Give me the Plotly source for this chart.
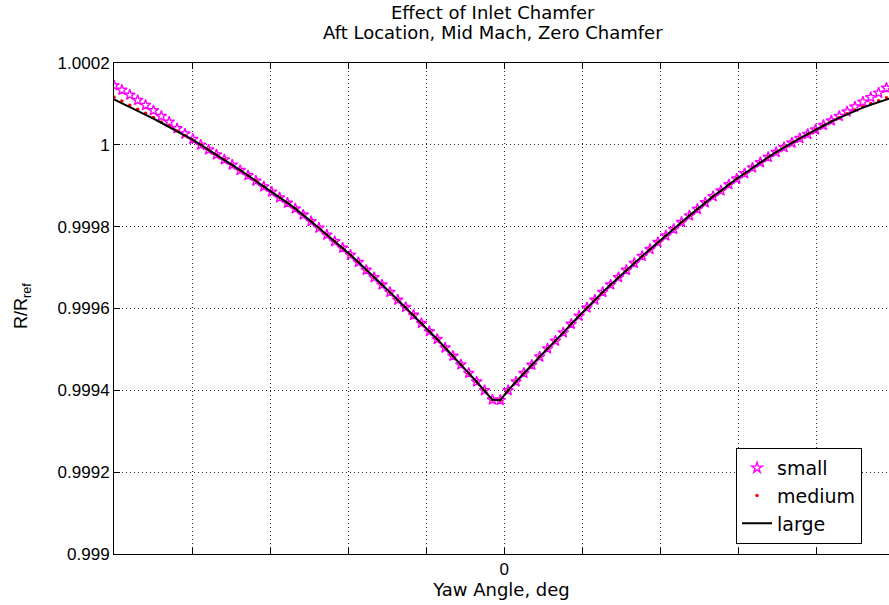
import plotly.graph_objects as go

# ---- data ----
yaw = [-5.0, -4.899, -4.798, -4.697, -4.596, -4.4949, -4.3939, -4.2929, -4.1919, -4.0909,
       -3.9899, -3.8889, -3.7879, -3.6869, -3.5859, -3.4848, -3.3838, -3.2828, -3.1818, -3.0808,
       -2.9798, -2.8788, -2.7778, -2.6768, -2.5758, -2.4747, -2.3737, -2.2727, -2.1717, -2.0707,
       -1.9697, -1.8687, -1.7677, -1.6667, -1.5657, -1.4646, -1.3636, -1.2626, -1.1616, -1.0606,
       -0.9596, -0.8586, -0.7576, -0.6566, -0.5556, -0.4545, -0.3535, -0.2525, -0.1515, -0.0505,
       0.0505, 0.1515, 0.2525, 0.3535, 0.4545, 0.5556, 0.6566, 0.7576, 0.8586, 0.9596,
       1.0606, 1.1616, 1.2626, 1.3636, 1.4646, 1.5657, 1.6667, 1.7677, 1.8687, 1.9697,
       2.0707, 2.1717, 2.2727, 2.3737, 2.4747, 2.5758, 2.6768, 2.7778, 2.8788, 2.9798,
       3.0808, 3.1818, 3.2828, 3.3838, 3.4848, 3.5859, 3.6869, 3.7879, 3.8889, 3.9899,
       4.0909, 4.1919, 4.2929, 4.3939, 4.4949, 4.596, 4.697, 4.798, 4.899, 5.0]

large = [1.000111, 1.000102, 1.000093, 1.000083, 1.000074, 1.000064, 1.000054, 1.000044, 1.000033, 1.000023,
         1.000012, 1.000000, 0.999988, 0.999976, 0.999964, 0.999951, 0.999938, 0.999925, 0.999912, 0.999898,
         0.999885, 0.999871, 0.999858, 0.999844, 0.999829, 0.999813, 0.999797, 0.999780, 0.999764, 0.999748,
         0.999731, 0.999713, 0.999694, 0.999676, 0.999658, 0.999640, 0.999621, 0.999603, 0.999584, 0.999564,
         0.999544, 0.999525, 0.999504, 0.999484, 0.999463, 0.999442, 0.999421, 0.999400, 0.999377, 0.999376,
         0.999400, 0.999421, 0.999442, 0.999462, 0.999482, 0.999502, 0.999521, 0.999541, 0.999562, 0.999582,
         0.999602, 0.999621, 0.999640, 0.999658, 0.999676, 0.999694, 0.999711, 0.999728, 0.999745, 0.999762,
         0.999778, 0.999794, 0.999811, 0.999827, 0.999843, 0.999859, 0.999874, 0.999888, 0.999903, 0.999917,
         0.999930, 0.999944, 0.999957, 0.999970, 0.999982, 0.999994, 1.000005, 1.000016, 1.000026, 1.000037,
         1.000047, 1.000057, 1.000066, 1.000075, 1.000083, 1.000091, 1.000098, 1.000105, 1.000111, 1.000117]

medium = [1.000116, 1.000107, 1.000097, 1.000087, 1.000077, 1.000067, 1.000056, 1.000046, 1.000034, 1.000023,
          1.000012, 1.000000, 0.999988, 0.999976, 0.999964, 0.999951, 0.999938, 0.999925, 0.999912, 0.999898,
          0.999885, 0.999871, 0.999858, 0.999844, 0.999829, 0.999813, 0.999797, 0.999780, 0.999764, 0.999748,
          0.999731, 0.999713, 0.999694, 0.999676, 0.999658, 0.999640, 0.999621, 0.999603, 0.999584, 0.999564,
          0.999544, 0.999525, 0.999504, 0.999484, 0.999463, 0.999442, 0.999421, 0.999400, 0.999377, 0.999376,
          0.999400, 0.999421, 0.999442, 0.999462, 0.999482, 0.999502, 0.999521, 0.999541, 0.999562, 0.999582,
          0.999602, 0.999621, 0.999640, 0.999658, 0.999676, 0.999694, 0.999711, 0.999728, 0.999745, 0.999762,
          0.999778, 0.999794, 0.999811, 0.999827, 0.999843, 0.999859, 0.999874, 0.999888, 0.999903, 0.999917,
          0.999930, 0.999944, 0.999957, 0.999970, 0.999982, 0.999994, 1.000005, 1.000016, 1.000026, 1.000037,
          1.000047, 1.000057, 1.000066, 1.000076, 1.000085, 1.000093, 1.000101, 1.000108, 1.000115, 1.000121]

small = [1.000145, 1.000134, 1.000122, 1.000109, 1.000097, 1.000084, 1.000070, 1.000056, 1.000040, 1.000027,
         1.000014, 1.000000, 0.999988, 0.999976, 0.999964, 0.999951, 0.999938, 0.999925, 0.999912, 0.999898,
         0.999885, 0.999871, 0.999858, 0.999844, 0.999829, 0.999813, 0.999797, 0.999780, 0.999764, 0.999748,
         0.999731, 0.999713, 0.999694, 0.999676, 0.999658, 0.999640, 0.999621, 0.999603, 0.999584, 0.999564,
         0.999544, 0.999525, 0.999504, 0.999484, 0.999463, 0.999442, 0.999421, 0.999400, 0.999377, 0.999376,
         0.999400, 0.999421, 0.999442, 0.999462, 0.999482, 0.999502, 0.999521, 0.999541, 0.999562, 0.999582,
         0.999602, 0.999621, 0.999640, 0.999658, 0.999676, 0.999694, 0.999711, 0.999728, 0.999745, 0.999762,
         0.999778, 0.999794, 0.999811, 0.999827, 0.999843, 0.999859, 0.999874, 0.999888, 0.999903, 0.999917,
         0.999930, 0.999944, 0.999957, 0.999970, 0.999982, 0.999994, 1.000005, 1.000016, 1.000026, 1.000037,
         1.000048, 1.000059, 1.000070, 1.000081, 1.000093, 1.000105, 1.000116, 1.000127, 1.000139, 1.000150]

x_ticks = [0]
x_tick_labels = ["0"]
x_grid_step = 1
y_ticks = [0.999, 0.9992, 0.9994, 0.9996, 0.9998, 1.0, 1.0002]
y_tick_labels = ["0.999", "0.9992", "0.9994", "0.9996", "0.9998", "1", "1.0002"]
title_lines = ["Effect of Inlet Chamfer", "Aft Location, Mid Mach, Zero Chamfer"]

ARIAL = "Liberation Sans, Arial, sans-serif"
WIDE = "DejaVu Sans, sans-serif"
GRID = "rgb(40,40,40)"

fig = go.Figure()
fig.add_trace(go.Scatter(
    x=yaw, y=small, mode="markers", name="small",
    marker=dict(symbol="star-open", size=8, color="#FF00FF", line=dict(width=1.4, color="#FF00FF")),
))
fig.add_trace(go.Scatter(
    x=yaw, y=medium, mode="markers", name="medium",
    marker=dict(symbol="circle", size=3.5, color="#FF0000", line=dict(width=0)),
))
fig.add_trace(go.Scatter(
    x=yaw, y=large, mode="lines", name="large",
    line=dict(color="black", width=2),
))

W, H = 889, 605
L, R, T, B = 114, 0, 63, 51
pw = W - L - R
ph = H - T - B


def px_to_paper_y(ypx):
    return (H - B - ypx) / ph


def px_to_paper_x(xpx):
    return (xpx - L) / pw


fig.update_layout(
    width=W, height=H,
    margin=dict(l=L, r=R, t=T, b=B, pad=0),
    paper_bgcolor="white", plot_bgcolor="white",
    font=dict(family=ARIAL, size=17, color="black"),
    showlegend=True,
    legend=dict(
        x=px_to_paper_x(862), xanchor="right",
        y=px_to_paper_y(544), yanchor="bottom",
        bgcolor="white", bordercolor="black", borderwidth=1,
        font=dict(family=WIDE, size=19, color="black"),
        itemwidth=30,
    ),
    xaxis=dict(
        range=[-5, -5 + pw / 78.04],
        tickmode="array", tickvals=x_ticks, ticktext=x_tick_labels,
        ticks="inside", ticklen=6, tickcolor="black", tickwidth=1,
        showline=True, linecolor="black", linewidth=1, mirror="ticks",
        showgrid=True, gridcolor=GRID, griddash="1px,3px", gridwidth=1,
        minor=dict(dtick=x_grid_step, tick0=0, ticks="inside", ticklen=6, tickcolor="black",
                   showgrid=True, gridcolor=GRID, griddash="1px,3px", gridwidth=1),
        zeroline=False,
        tickfont=dict(family=ARIAL, size=17),
        title=dict(text="Yaw Angle, deg", font=dict(family=WIDE, size=18), standoff=1),
    ),
    yaxis=dict(
        range=[0.999, 1.0002],
        tickmode="array", tickvals=y_ticks, ticktext=y_tick_labels,
        ticks="inside", ticklen=6, tickcolor="black", tickwidth=1,
        showline=True, linecolor="black", linewidth=1, mirror=False,
        showgrid=True, gridcolor=GRID, griddash="1px,3px", gridwidth=1,
        zeroline=False,
        tickfont=dict(family=ARIAL, size=17),
    ),
    annotations=[
        dict(text=title_lines[0], xref="paper", yref="paper",
             x=px_to_paper_x(493), y=px_to_paper_y(13), xanchor="center", yanchor="middle",
             showarrow=False, font=dict(family=WIDE, size=18)),
        dict(text=title_lines[1], xref="paper", yref="paper",
             x=px_to_paper_x(493), y=px_to_paper_y(32), xanchor="center", yanchor="middle",
             showarrow=False, font=dict(family=WIDE, size=18)),
        dict(text="R/R<sub>ref</sub>", xref="paper", yref="paper",
             x=px_to_paper_x(22), y=px_to_paper_y(306), xanchor="center", yanchor="middle",
             textangle=-90, showarrow=False, font=dict(family=ARIAL, size=18)),
    ],
)

fig.write_html("out.html")
